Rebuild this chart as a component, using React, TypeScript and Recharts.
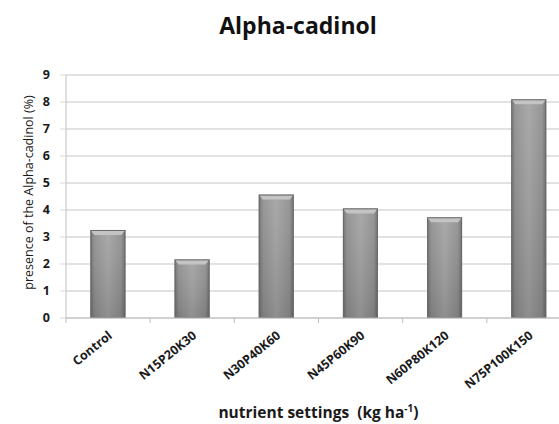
import React from "react";
import { BarChart, Bar, XAxis, YAxis, CartesianGrid } from "recharts";

const categories = [
  "Control",
  "N15P20K30",
  "N30P40K60",
  "N45P60K90",
  "N60P80K120",
  "N75P100K150",
];
const alphaCadinol = [3.26, 2.17, 4.57, 4.06, 3.73, 8.1];
const yTicks = [0, 1, 2, 3, 4, 5, 6, 7, 8, 9];

const data = categories.map((name, i) => ({ name, value: alphaCadinol[i] }));

const FONT = "'Open Sans', 'DejaVu Sans', sans-serif";

const BevelBar = (props: any) => {
  const { x, y, width, height } = props;
  if (!height || height <= 0) return null;
  const bevel = Math.min(5, height);
  return (
    <g>
      <rect x={x} y={y} width={width} height={height} fill="url(#barH)" />
      <rect x={x} y={y} width={width} height={height} fill="url(#barV)" />
      <polygon
        points={`${x},${y} ${x + width},${y} ${x + width - 4},${y + bevel} ${x + 4},${y + bevel}`}
        fill="#c4c4c4"
      />
      <rect
        x={x + 0.5}
        y={y + 0.5}
        width={width - 1}
        height={height - 1}
        fill="none"
        stroke="#6a6a6a"
        strokeWidth={1}
      />
    </g>
  );
};

const XTick = (props: any) => {
  const { x, y, payload, index } = props;
  const half = payload && payload.offset ? payload.offset : 42;
  const ax = x + 5;
  const ay = y + 11;
  return (
    <g>
      <line x1={x - half} y1={y - 8} x2={x - half} y2={y - 3} stroke="#bfbfbf" />
      {index === categories.length - 1 && (
        <line x1={x + half} y1={y - 8} x2={x + half} y2={y - 3} stroke="#bfbfbf" />
      )}
      <text
        x={ax}
        y={ay}
        transform={`rotate(-39 ${ax} ${ay})`}
        textAnchor="end"
        fontFamily={FONT}
        fontWeight="bold"
        fontSize={12.5}
        fill="#1a1a1a"
      >
        {payload.value}
      </text>
    </g>
  );
};

const XLabel = (props: any) => {
  const vb = props.viewBox || {};
  const cx = vb.x + vb.width / 2;
  return (
    <text
      x={cx}
      y={vb.y + vb.height - 6}
      textAnchor="middle"
      fontFamily={FONT}
      fontWeight="bold"
      fontSize={15.5}
      fill="#1a1a1a"
    >
      nutrient settings{"\u00a0\u00a0"}(kg ha
      <tspan dy={-6} fontSize={10}>-1</tspan>
      <tspan dy={6}>)</tspan>
    </text>
  );
};

const YLabel = (props: any) => {
  const vb = props.viewBox || {};
  const cy = vb.y + vb.height / 2 - 4;
  const cx = 28;
  return (
    <text
      x={cx}
      y={cy}
      transform={`rotate(-90 ${cx} ${cy})`}
      textAnchor="middle"
      dominantBaseline="central"
      fontFamily={FONT}
      fontSize={12.5}
      fill="#1a1a1a"
    >
      presence of the Alpha-cadinol (%)
    </text>
  );
};

export default function App() {
  return (
    <div
      style={{
        position: "absolute",
        left: 0,
        top: 0,
        width: 559,
        height: 424,
        overflow: "hidden",
        background: "#ffffff",
      }}
    >
      <div
        style={{
          position: "absolute",
          left: 0,
          top: 10,
          width: 596,
          textAlign: "center",
          fontFamily: FONT,
          fontWeight: "bold",
          fontSize: 23,
          lineHeight: "30px",
          color: "#111",
        }}
      >
        Alpha-cadinol
      </div>
      <BarChart
        width={590}
        height={424}
        data={data}
        margin={{ top: 75, right: 19, bottom: 0, left: 0 }}
        barCategoryGap="29%"
      >
        <defs>
          <linearGradient id="barH" x1="0" y1="0" x2="1" y2="0">
            <stop offset="0%" stopColor="#6c6c6c" />
            <stop offset="12%" stopColor="#8e8e8e" />
            <stop offset="50%" stopColor="#a2a2a2" />
            <stop offset="88%" stopColor="#8e8e8e" />
            <stop offset="100%" stopColor="#686868" />
          </linearGradient>
          <linearGradient id="barV" x1="0" y1="0" x2="0" y2="1">
            <stop offset="0%" stopColor="#ffffff" stopOpacity={0.08} />
            <stop offset="100%" stopColor="#000000" stopOpacity={0.12} />
          </linearGradient>
        </defs>
        <CartesianGrid vertical={false} stroke="#d9d9d9" strokeWidth={1.3} />
        <XAxis
          dataKey="name"
          interval={0}
          height={106}
          stroke="#bfbfbf"
          tickLine={false}
          tick={<XTick />}
          label={<XLabel />}
        />
        <YAxis
          width={66}
          domain={[0, 9]}
          ticks={yTicks}
          interval={0}
          stroke="#bfbfbf"
          tickSize={6}
          tickMargin={10}
          tickLine={{ stroke: "#d9d9d9" }}
          tick={{ fontFamily: FONT, fontWeight: "bold", fontSize: 12.5, fill: "#1a1a1a" }}
          label={<YLabel />}
        />
        <Bar dataKey="value" shape={<BevelBar />} isAnimationActive={false} />
      </BarChart>
    </div>
  );
}
